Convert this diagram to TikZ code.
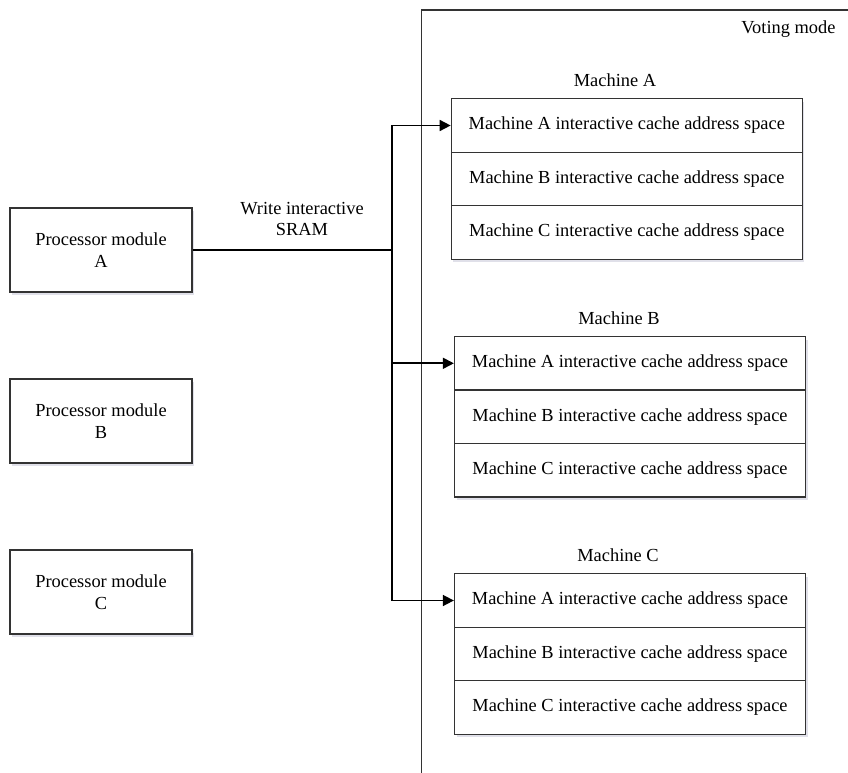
\documentclass[tikz,border=0pt]{standalone}
\usepackage{fontspec}
\setmainfont{Liberation Serif}
\usetikzlibrary{arrows.meta,shadows}
\begin{document}
\begin{tikzpicture}[x=1pt,y=-1pt,
  txt/.style={font=\fontsize{18.4}{21.5}\selectfont},
  box/.style={draw=black!80,line width=1.3pt,fill=white,inner sep=0pt,align=center,txt,
    drop shadow={shadow xshift=2pt,shadow yshift=-3pt,fill=blue!30!black,opacity=0.12}},
  proc/.style={box,minimum width=182pt,minimum height=84pt},
  cell/.style={box,minimum width=351pt,minimum height=53.5pt},
  conn/.style={draw=black,line width=1.7pt},
  arr/.style={conn,-{Triangle[length=11pt,width=11pt]}}
]
\useasboundingbox (0,0) rectangle (848,773);
% voting mode frame
\draw[draw=black!80,line width=1.2pt] (421.7,773) -- (421.7,10) -- (848,10);
\node[txt,anchor=east] (vm) at (839,29) {Voting mode};

% processor modules
\node[proc] (pa) at (101,250) {Processor module\\A};
\node[proc] (pb) at (101,421) {Processor module\\B};
\node[proc] (pc) at (101,592) {Processor module\\C};

% Machine A
\node[txt] (ma) at (615,80) {Machine A};
\node[cell] (a1) at (626.8,125.5) {Machine A interactive cache address space};
\node[cell] (a2) at (626.8,179) {Machine B interactive cache address space};
\node[cell] (a3) at (626.8,232.5) {Machine C interactive cache address space};

% Machine B
\node[txt] (mb) at (619,318) {Machine B};
\node[cell] (b1) at (630,363.3) {Machine A interactive cache address space};
\node[cell] (b2) at (630,416.8) {Machine B interactive cache address space};
\node[cell] (b3) at (630,470.3) {Machine C interactive cache address space};

% Machine C
\node[txt] (mc) at (618,555) {Machine C};
\node[cell] (c1) at (630,600.5) {Machine A interactive cache address space};
\node[cell] (c2) at (630,654) {Machine B interactive cache address space};
\node[cell] (c3) at (630,707.5) {Machine C interactive cache address space};

% bus
\coordinate (j) at (391.7,250);
\coordinate (top) at (391.7,125.5);
\coordinate (bot) at (391.7,600.5);
\draw[conn] (pa.east) -- (j);
\draw[conn] (top) -- (bot);
\draw[arr] (top) -- (a1.west);
\draw[arr] (391.7,363.3) -- (b1.west);
\draw[arr] (bot) -- (c1.west);
\node[txt,align=center] (lbl) at (302,219) {Write interactive\\SRAM};
\end{tikzpicture}
\end{document}
